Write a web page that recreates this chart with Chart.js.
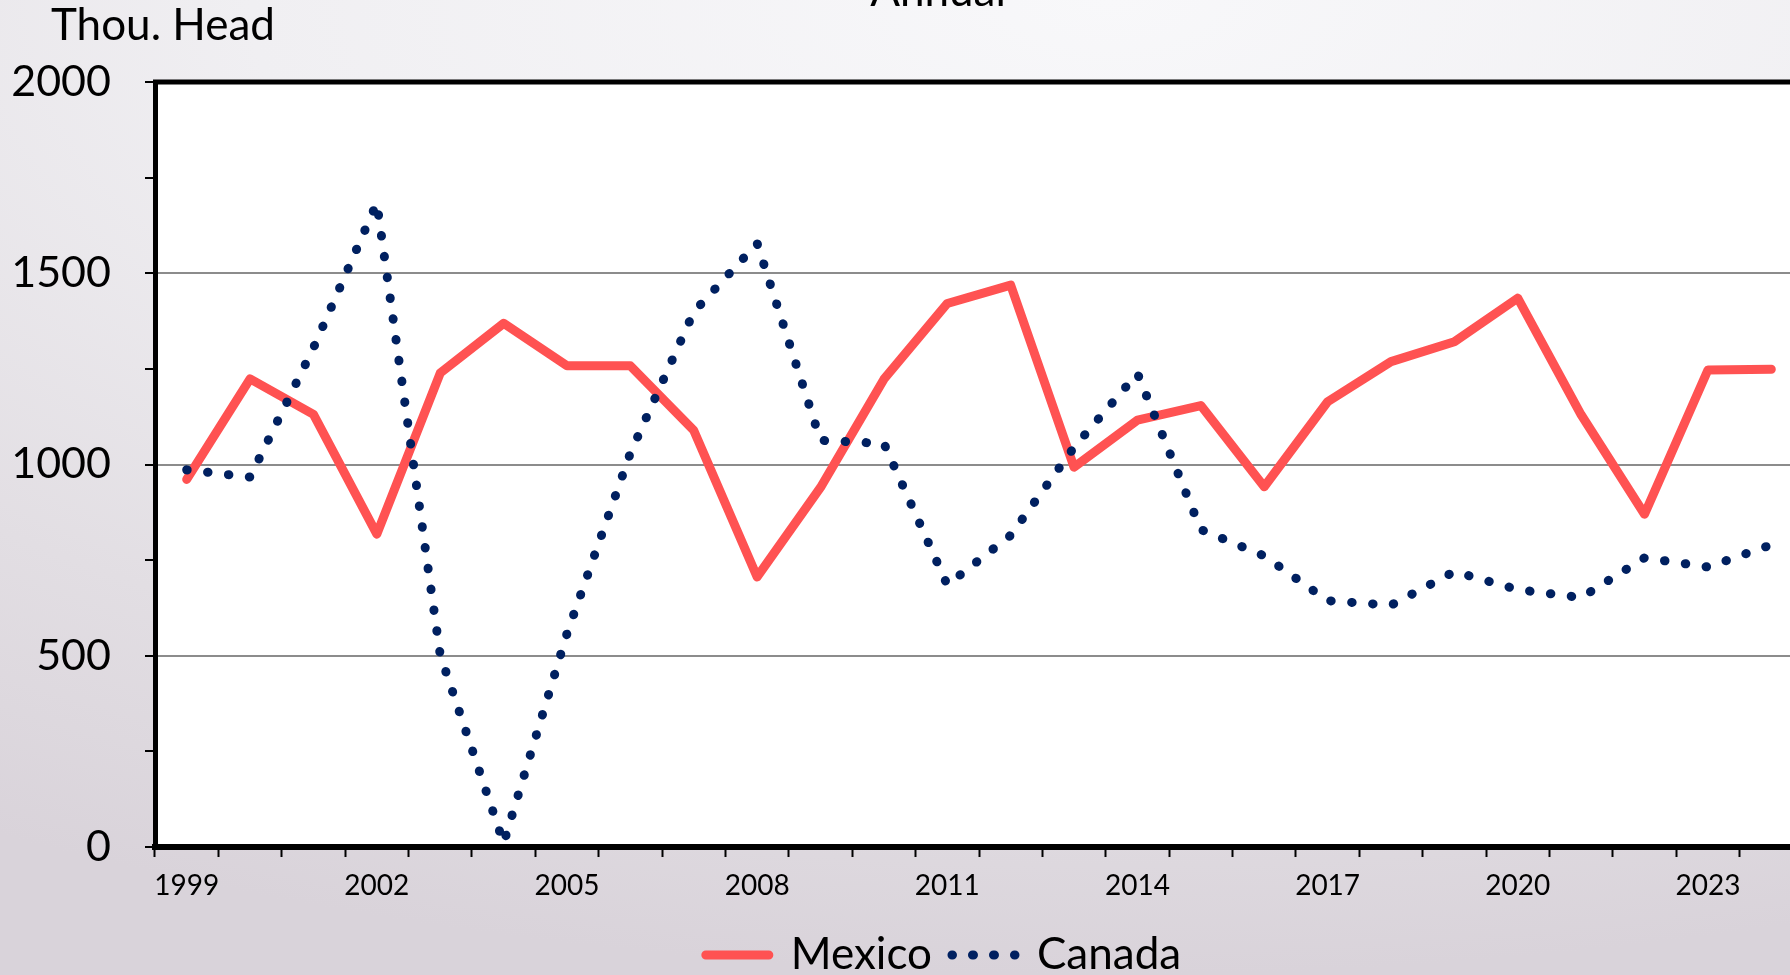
<!DOCTYPE html>
<html>
<head>
  <style>
    html, body {
      margin: 0;
      padding: 0;
      width: 1790px;
      height: 975px;
      overflow: hidden;
    }

    body {
      position: relative;
      font-family: "Lato", sans-serif;
      background: radial-gradient(ellipse 120% 100% at 62% 0%, #f8f8fa 0%, #f0eff2 40%, #e2dee3 75%, #d9d3da 100%);
    }

    /* wider than the window: the plot runs past the right edge like the original */
    .chart-container {
      position: absolute;
      left: 0;
      top: 0;
      width: 1880px;
      height: 987px;
    }

    .unit-label {
      position: absolute;
      left: 51px;
      top: 1px;
      font-size: 44px;
      line-height: 44px;
      color: #000;
    }

    .chart-title {
      position: absolute;
      left: 838px;
      top: -33px;
      width: 200px;
      text-align: center;
      font-size: 44px;
      line-height: 44px;
      color: #000;
    }
  </style>
  <script src="https://cdn.jsdelivr.net/npm/chart.js"></script>
</head>
<body>
  <div class="chart-container">
    <canvas id="cattleChart"></canvas>
  </div>
  <div class="chart-title">Annual</div>
  <div class="unit-label">Thou. Head</div>

  <script>
    const years = ['1999', '2000', '2001', '2002', '2003', '2004', '2005', '2006', '2007', '2008',
      '2009', '2010', '2011', '2012', '2013', '2014', '2015', '2016', '2017', '2018',
      '2019', '2020', '2021', '2022', '2023', '2024'];

    const mexico = [961, 1224, 1131, 818, 1239, 1369, 1258, 1258, 1089, 706,
      940, 1223, 1421, 1469, 993, 1116, 1154, 942, 1164, 1269,
      1321, 1435, 1130, 870, 1247, 1249];

    const canada = [986, 967, 1305, 1684, 502, 10, 558, 1030, 1399, 1578,
      1063, 1055, 685, 815, 1045, 1238, 830, 761, 644, 632,
      720, 673, 652, 756, 732, 790];

    const yTicks = [0, 500, 1000, 1500, 2000];

    // white plot area + thick top frame line
    const plotFrame = {
      id: 'plotFrame',
      beforeDraw(chart) {
        const { ctx, chartArea: a } = chart;
        ctx.save();
        ctx.fillStyle = '#ffffff';
        ctx.fillRect(a.left, a.top, a.right - a.left, a.bottom - a.top);
        ctx.restore();
      },
      afterDraw(chart) {
        const { ctx, chartArea: a } = chart;
        ctx.save();
        ctx.strokeStyle = '#000000';
        ctx.lineWidth = 5;
        ctx.beginPath();
        ctx.moveTo(a.left - 2, a.top);
        ctx.lineTo(a.right, a.top);
        ctx.stroke();
        ctx.restore();
      }
    };

    // legend sits a bit right of the canvas centre in the original
    const legendShift = {
      id: 'legendShift',
      afterLayout(chart) {
        chart.legend.left += 42;
        chart.legend.right += 42;
      }
    };

    Chart.defaults.font.family = 'Lato';
    Chart.defaults.color = '#000';

    const ctx = document.getElementById('cattleChart').getContext('2d');

    new Chart(ctx, {
      type: 'line',
      data: {
        labels: years,
        datasets: [{
          label: 'Mexico',
          data: mexico,
          borderColor: '#ff5252',
          backgroundColor: 'rgba(0,0,0,0)',
          borderWidth: 9,
          borderCapStyle: 'round',
          borderJoinStyle: 'round',
          pointRadius: 0,
          tension: 0,
          order: 1
        }, {
          label: 'Canada',
          data: canada,
          borderColor: '#002060',
          backgroundColor: 'rgba(0,0,0,0)',
          borderWidth: 9,
          borderDash: [0.5, 20.5],
          borderCapStyle: 'round',
          pointRadius: 0,
          tension: 0,
          order: 0
        }]
      },
      options: {
        responsive: true,
        maintainAspectRatio: false,
        animation: false,
        layout: {
          padding: { left: 0, top: 82, right: 77, bottom: 0 }
        },
        scales: {
          x: {
            offset: true,
            afterFit(scale) { scale.height = 66; },
            grid: {
              offset: true,
              drawOnChartArea: false,
              drawTicks: true,
              tickLength: 10,
              tickColor: '#000',
              tickWidth: 2
            },
            border: { color: '#000', width: 6 },
            ticks: {
              autoSkip: false,
              maxRotation: 0,
              padding: 12,
              font: { size: 28 },
              callback(val, idx) {
                return idx % 3 === 0 ? this.getLabelForValue(val) : '';
              }
            }
          },
          y: {
            min: 0,
            max: 2000,
            afterFit(scale) { scale.width = 155; },
            grid: {
              color(c) {
                const v = c.tick ? c.tick.value : null;
                return (v !== 0 && v !== 2000 && v % 500 === 0) ? '#8c8c8c' : 'rgba(0,0,0,0)';
              },
              lineWidth: 2,
              tickLength: 10,
              tickColor: '#000',
              tickWidth: 2
            },
            border: { color: '#000', width: 5 },
            ticks: {
              stepSize: 250,
              padding: 34,
              font: { size: 43 },
              callback(v) {
                return yTicks.includes(v) ? v : '';
              }
            }
          }
        },
        plugins: {
          legend: {
            position: 'bottom',
            labels: {
              boxWidth: 63,
              boxHeight: 0,
              padding: 20,
              font: { size: 44 },
              color: '#000',
              sort: (a, b) => a.datasetIndex - b.datasetIndex
            }
          },
          tooltip: { enabled: false }
        }
      },
      plugins: [plotFrame, legendShift]
    });
  </script>
</body>
</html>
